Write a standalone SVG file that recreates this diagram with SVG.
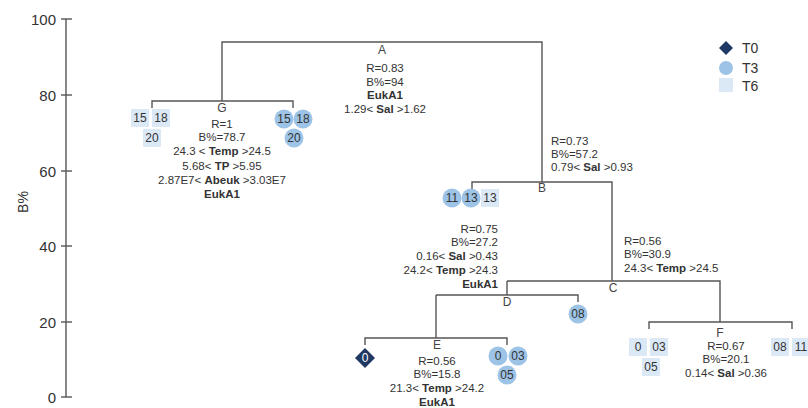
<svg xmlns="http://www.w3.org/2000/svg" width="808" height="408" viewBox="0 0 808 408">
<defs>
<style>
text{font-family:"Liberation Sans",Arial,sans-serif;fill:#333;}
.ax{font-size:15px;text-anchor:end;dominant-baseline:central;fill:#333;}
.ln{stroke:#555;stroke-width:1.4;fill:none;}
.nl{font-size:12px;text-anchor:middle;fill:#444;}
.t{font-size:11.5px;}
.m{text-anchor:middle;}
.e{text-anchor:end;}
.b{font-weight:bold;}
.lf{font-size:12px;text-anchor:middle;dominant-baseline:central;fill:#333;}
.sq{fill:#dbe8f6;}
.ci{fill:#9dc3e6;}
.di{fill:#1f3864;}
</style>
</defs>
<rect width="808" height="408" fill="#fff"/>
<g id="axis">
<line class="ln" x1="66" y1="19" x2="66" y2="397"/>
<line class="ln" x1="61" y1="19" x2="72" y2="19"/>
<line class="ln" x1="61" y1="95" x2="72" y2="95"/>
<line class="ln" x1="61" y1="171" x2="72" y2="171"/>
<line class="ln" x1="61" y1="246" x2="72" y2="246"/>
<line class="ln" x1="61" y1="322" x2="72" y2="322"/>
<line class="ln" x1="61" y1="397" x2="72" y2="397"/>
<text class="ax" x="56" y="19">100</text>
<text class="ax" x="56" y="95">80</text>
<text class="ax" x="56" y="171">60</text>
<text class="ax" x="56" y="246">40</text>
<text class="ax" x="56" y="322">20</text>
<text class="ax" x="56" y="397">0</text>
<text x="23" y="202" font-size="14" text-anchor="middle" dominant-baseline="central" transform="rotate(-90 23 202)">B%</text>
</g>
<g id="connectors">
<path class="ln" d="M222 101 V42 H542 V182"/>
<path class="ln" d="M152 108 V101 H293 V108"/>
<path class="ln" d="M472 189 V182 H612 V281"/>
<path class="ln" d="M507 281 H720 V322"/>
<path class="ln" d="M507 281 V295"/>
<path class="ln" d="M436 295 H578 V302"/>
<path class="ln" d="M436 295 V338"/>
<path class="ln" d="M365 345 V338 H507 V345"/>
<path class="ln" d="M649 329 V322 H792 V329"/>
</g>
<g id="node-A">
<text class="nl" x="382" y="54">A</text>
<text class="t m" x="385" y="72">R=0.83</text>
<text class="t m" x="385" y="86">B%=94</text>
<text class="t m b" x="385" y="99">EukA1</text>
<text class="t m" x="385" y="113">1.29&lt; <tspan class="b">Sal</tspan> &gt;1.62</text>
</g>
<g id="node-G">
<text class="nl" x="222" y="112">G</text>
<text class="t m" x="222" y="128">R=1</text>
<text class="t m" x="222" y="141">B%=78.7</text>
<text class="t m" x="222" y="155">24.3 &lt; <tspan class="b">Temp</tspan> &gt;24.5</text>
<text class="t m" x="222" y="170">5.68&lt; <tspan class="b">TP</tspan> &gt;5.95</text>
<text class="t m" x="222" y="184">2.87E7&lt; <tspan class="b">Abeuk</tspan> &gt;3.03E7</text>
<text class="t m b" x="222" y="198">EukA1</text>
</g>
<g id="leaves-G-left">
<rect class="sq" x="131" y="109" width="18" height="18"/><text class="lf" x="140" y="118">15</text>
<rect class="sq" x="152" y="109" width="18" height="18"/><text class="lf" x="161" y="118">18</text>
<rect class="sq" x="143" y="129" width="18" height="18"/><text class="lf" x="152" y="138">20</text>
</g>
<g id="leaves-G-right">
<circle class="ci" cx="284" cy="119" r="9.5"/><text class="lf" x="284" y="119">15</text>
<circle class="ci" cx="303" cy="119" r="9.5"/><text class="lf" x="303" y="119">18</text>
<circle class="ci" cx="294" cy="138" r="9.5"/><text class="lf" x="294" y="138">20</text>
</g>
<g id="node-B">
<text class="nl" x="542" y="192">B</text>
<text class="t" x="551" y="145">R=0.73</text>
<text class="t" x="551" y="158">B%=57.2</text>
<text class="t" x="551" y="171">0.79&lt; <tspan class="b">Sal</tspan> &gt;0.93</text>
</g>
<g id="leaves-B-left">
<circle class="ci" cx="452" cy="198" r="9.5"/><text class="lf" x="452" y="198">11</text>
<circle class="ci" cx="471" cy="198" r="9.5"/><text class="lf" x="471" y="198">13</text>
<rect class="sq" x="481" y="189" width="18" height="18"/><text class="lf" x="490" y="198">13</text>
</g>
<g id="node-C">
<text class="nl" x="613" y="292">C</text>
<text class="t" x="624" y="245">R=0.56</text>
<text class="t" x="624" y="258">B%=30.9</text>
<text class="t" x="624" y="272">24.3&lt; <tspan class="b">Temp</tspan> &gt;24.5</text>
</g>
<g id="node-D">
<text class="nl" x="507" y="306">D</text>
<text class="t e" x="498" y="233">R=0.75</text>
<text class="t e" x="498" y="246">B%=27.2</text>
<text class="t e" x="498" y="260">0.16&lt; <tspan class="b">Sal</tspan> &gt;0.43</text>
<text class="t e" x="498" y="274">24.2&lt; <tspan class="b">Temp</tspan> &gt;24.3</text>
<text class="t e b" x="498" y="288">EukA1</text>
</g>
<g id="leaf-D-right">
<circle class="ci" cx="578" cy="314" r="9.5"/><text class="lf" x="578" y="314">08</text>
</g>
<g id="node-E">
<text class="nl" x="437" y="349">E</text>
<text class="t m" x="437" y="365">R=0.56</text>
<text class="t m" x="437" y="378">B%=15.8</text>
<text class="t m" x="437" y="392">21.3&lt; <tspan class="b">Temp</tspan> &gt;24.2</text>
<text class="t m b" x="437" y="406">EukA1</text>
</g>
<g id="leaves-E-left">
<polygon class="di" points="365,348 375,358 365,368 355,358"/><text class="lf" x="365" y="358" style="fill:#fff" font-size="10">0</text>
</g>
<g id="leaves-E-right">
<circle class="ci" cx="498" cy="356" r="9.5"/><text class="lf" x="498" y="356">0</text>
<circle class="ci" cx="518" cy="356" r="9.5"/><text class="lf" x="518" y="356">03</text>
<circle class="ci" cx="507" cy="375" r="9.5"/><text class="lf" x="507" y="375">05</text>
</g>
<g id="node-F">
<text class="nl" x="720" y="337">F</text>
<text class="t m" x="726" y="350">R=0.67</text>
<text class="t m" x="726" y="363">B%=20.1</text>
<text class="t m" x="726" y="377">0.14&lt; <tspan class="b">Sal</tspan> &gt;0.36</text>
</g>
<g id="leaves-F-left">
<rect class="sq" x="629" y="338" width="18" height="18"/><text class="lf" x="638" y="347">0</text>
<rect class="sq" x="650" y="338" width="18" height="18"/><text class="lf" x="659" y="347">03</text>
<rect class="sq" x="642" y="358" width="18" height="18"/><text class="lf" x="651" y="367">05</text>
</g>
<g id="leaves-F-right">
<rect class="sq" x="771" y="338" width="18" height="18"/><text class="lf" x="780" y="347">08</text>
<rect class="sq" x="792" y="338" width="18" height="18"/><text class="lf" x="801" y="347">11</text>
</g>
<g id="legend">
<polygon class="di" points="726,41 733,48 726,55 719,48"/><text x="742" y="48" font-size="14" dominant-baseline="central">T0</text>
<circle class="ci" cx="726" cy="68" r="7"/><text x="742" y="68" font-size="14" dominant-baseline="central">T3</text>
<rect class="sq" x="719" y="78" width="14" height="14"/><text x="742" y="86" font-size="14" dominant-baseline="central">T6</text>
</g>
</svg>
